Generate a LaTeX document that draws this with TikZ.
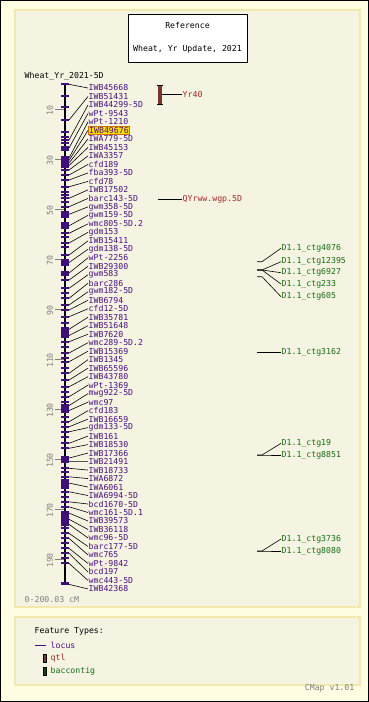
\documentclass[tikz,border=0pt]{standalone}
\usepackage{fontspec}
\newfontfamily\mapfont{DejaVu Sans Mono}
\usetikzlibrary{positioning}
\definecolor{outerbg}{RGB}{255,253,226}
\definecolor{panelbg}{RGB}{245,243,225}
\definecolor{panelln}{RGB}{242,234,172}
\definecolor{locuscol}{RGB}{72,16,128}
\definecolor{tickcol}{RGB}{64,16,120}
\definecolor{qtlcol}{RGB}{160,40,40}
\definecolor{qtlbar}{RGB}{122,52,46}
\definecolor{ctgcol}{RGB}{20,110,20}
\definecolor{ctgbar}{RGB}{16,70,16}
\definecolor{axisgrey}{RGB}{128,128,128}
\definecolor{hlfill}{RGB}{255,222,0}
\definecolor{hlline}{RGB}{205,110,0}

\begin{document}
\begin{tikzpicture}[
    x=1pt, y=-1pt,
    txt/.style={font=\mapfont\fontsize{8.2}{9}\selectfont, inner sep=0.5pt},
    locuslbl/.style={txt, text=locuscol, anchor=west},
    hilite/.style={fill=hlfill, draw=hlline, inner sep=1pt},
    qtllbl/.style={txt, text=qtlcol, anchor=west},
    ctglbl/.style={txt, text=ctgcol, anchor=west},
    axislbl/.style={txt, text=axisgrey},
    titlebox/.style={txt, draw, fill=white, align=center, minimum width=119pt, minimum height=48pt},
    tickln/.style={tickcol, line width=2pt},
    conn/.style={black, line width=0.6pt},
    panel/.style={draw=panelln, fill=panelbg, line width=1.5pt}
]
\useasboundingbox (0,0) rectangle (369,702);

% === background and panels ===
\fill[outerbg] (0,0) rectangle (369,702);
\draw[black, line width=1pt] (0.5,0.5) rectangle (368.5,701.5);
\draw[panel] (15,10) rectangle (360,607);
\draw[panel] (15,617) rectangle (360,685);

% === title ===
\node[titlebox] (title) at (187.5,38) {Reference\\[14pt]Wheat, Yr Update, 2021};
\node[txt, anchor=west] (mapname) at (24,76) {Wheat\_Yr\_2021-5D};

% === scale ===
\foreach \v in {10,30,...,190} {
    \draw[axisgrey, line width=0.8pt] (55,{84.3+2.5*\v}) -- (65,{84.3+2.5*\v});
    \node[axislbl, rotate=90] (s\v) at (50,{85.5+2.5*\v}) {\v};
}
\node[axislbl, anchor=west] (range) at (24,600) {0-200.03 cM};

% === chromosome bar ===
\draw[black, line width=2pt] (65,84.3) -- (65,584.4);

% unlabelled loci
\foreach \c in {4.7,9.0,19.0,21.0,23.6,43.0,44.3,47.0,61.0,65.0,83.6,95.6,105.0,
    109.6,113.6,123.0,127.0,133.0,141.0,155.0,165.0,177.6,183.6,189.6,199.6}
    \draw[tickln] (61,{84.3+2.5*\c}) -- (69,{84.3+2.5*\c});
\foreach \a/\b in {25.0/26.3, 29.0/33.0, 51.0/53.0, 55.6/57.6, 70.3/72.3, 75.0/76.3,
    97.5/101.0, 128.3/131.0, 149.0/151.0, 158.3/161.6, 171.0/176.3}
    \fill[tickcol] (61,{84.3+2.5*\a-1}) rectangle (69,{84.3+2.5*\b+1});

% labelled loci
\foreach \nm/\cm [count=\i] in {IWB45668/0, IWB51431/14.3, IWB44299-5D/22.3, wPt-9543/25.5,
    wPt-1210/29.5, IWB49676/30.5, IWA779-5D/31.5, IWB45153/32.5, IWA3357/34.3,
    cfd189/36.3, fba393-5D/38.3, cfd78/41.0, IWB17502/45.6, barc143-5D/49.0,
    gwm358-5D/52.0, gwm159-5D/56.6, wmc805-5D.2/59.6, gdm153/63.5, IWB15411/68.3,
    gdm138-5D/71.3, wPt-2256/75.5, IWB29300/78.3, gwm583/81.6, barc286/85.6,
    gwm182-5D/88.3, IWB6794/90.3, cfd12-5D/93.0, IWB35781/98.0, IWB51648/100.5,
    IWB7620/103.0, wmc289-5D.2/107.5, IWB15369/111.0, IWB1345/115.6, IWB65596/118.3,
    IWB43780/121.0, wPt-1369/125.0, mwg922-5D/128.5, wmc97/130.5, cfd183/135.0,
    IWB16659/137.0, gdm133-5D/139.0, IWB161/143.6, IWB18530/145.6, IWB17366/149.5,
    IWB21491/150.9, IWB18733/153.6, IWA6872/157.0, IWA6061/159.5, IWA6994-5D/163.0,
    bcd1670-5D/167.0, wmc161-5D.1/169.0, IWB39573/171.5, IWB36118/174.0,
    wmc96-5D/176.0, barc177-5D/179.6, wmc765/181.6, wPt-9842/185.6, bcd197/187.6,
    wmc443-5D/191.6, IWB42368/200.03} {
    \def\st{}
    \ifnum\i=6 \def\st{hilite}\fi
    \draw[tickln] (61,{84.3+2.5*\cm}) -- (69,{84.3+2.5*\cm});
    \coordinate (m\i) at (69,{84.3+2.5*\cm});
    \node[locuslbl, \st] (l\i) at (88,{88+8.49*(\i-1)}) {\nm};
    \draw[conn] (m\i) -- (l\i.west);
}

% === QTL ===
\fill[qtlbar] (158,85) rectangle (162,104);
\draw[black, line width=0.8pt] (157,85) -- (163,85) (157,104) -- (163,104);
\coordinate (q1) at (162,94.5);
\node[qtllbl] (yr40) at (182,94.5) {Yr40};
\draw[conn] (q1) -- (yr40.west);
\coordinate (q2) at (158,199);
\node[qtllbl] (qyr) at (182,199) {QYrww.wgp.5D};
\draw[conn] (q2) -- (qyr.west);

% === bac contigs ===
\foreach \nm/\fy/\ly [count=\i] in {D1.1\_ctg4076/261.7/248.3, D1.1\_ctg12395/270/261.7,
    D1.1\_ctg6927/270/272.7, D1.1\_ctg233/270/284, D1.1\_ctg605/276.7/296.7,
    D1.1\_ctg3162/352.7/352.7, D1.1\_ctg19/455/443.3, D1.1\_ctg8851/455/455,
    D1.1\_ctg3736/551/539, D1.1\_ctg8080/551/551} {
    \coordinate (f\i) at (257,\fy);
    \node[ctglbl] (c\i) at (281,\ly) {\nm};
    \draw[conn] (f\i) -- ++(5,0) -- (c\i.west);
}

% === legend ===
\node[txt, anchor=west] (ftypes) at (34,631) {Feature Types:};
\coordinate (lg1) at (35,645);
\node[txt, text=locuscol, anchor=west] (lgl) at (50,645) {locus};
\draw[locuscol, line width=0.8pt] (lg1) -- ++(11,0);
\node[txt, text=qtlcol, anchor=west] (lgq) at (50,658) {qtl};
\draw[black, fill=qtlbar, line width=0.4pt] (43,654) rectangle (46,662);
\node[txt, text=ctgcol, anchor=west] (lgc) at (50,671) {baccontig};
\draw[black, fill=ctgbar, line width=0.4pt] (43,667) rectangle (46,675);
\node[axislbl, anchor=east] (ver) at (355,688) {CMap v1.01};

\end{tikzpicture}
\end{document}
